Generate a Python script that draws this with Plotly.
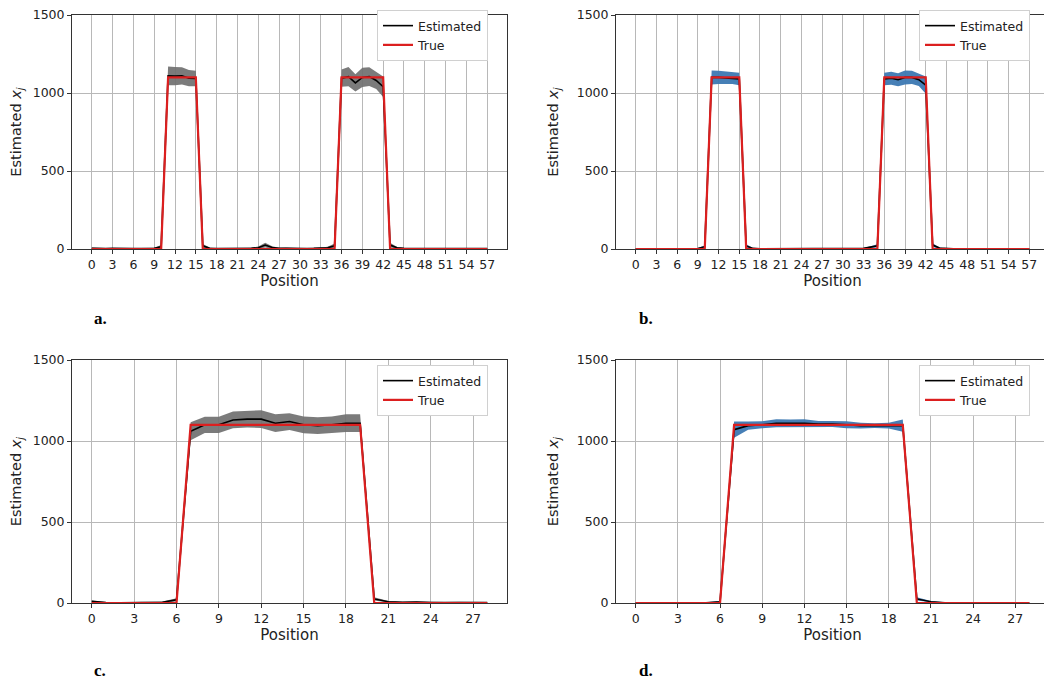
import plotly.graph_objects as go

# positions
pos_long = list(range(58))
pos_short = list(range(29))

# panel a / b (58 positions)
true_long = [0, 0, 0, 0, 0, 0, 0, 0, 0, 0, 0, 1100, 1100, 1100, 1100, 1100, 0, 0, 0, 0,
             0, 0, 0, 0, 0, 0, 0, 0, 0, 0, 0, 0, 0, 0, 0, 0, 1100, 1100, 1100, 1100,
             1100, 1100, 1100, 0, 0, 0, 0, 0, 0, 0, 0, 0, 0, 0, 0, 0, 0, 0]

est_a = [5, 3, 3, 4, 5, 4, 3, 3, 3, 4, 15, 1110, 1108, 1110, 1095, 1093, 20, 5, 3, 3,
         4, 4, 3, 5, 8, 25, 10, 4, 5, 3, 3, 3, 4, 5, 8, 20, 1095, 1105, 1065, 1100,
         1105, 1080, 1040, 25, 8, 4, 3, 3, 3, 3, 3, 3, 3, 4, 3, 3, 3, 3]
sd_a = [4, 3, 3, 3, 3, 3, 3, 3, 3, 4, 10, 60, 58, 55, 52, 50, 12, 4, 3, 3,
        3, 3, 3, 4, 8, 15, 8, 4, 4, 3, 3, 3, 3, 4, 6, 15, 55, 62, 55, 62,
        60, 55, 65, 15, 5, 3, 3, 3, 3, 3, 3, 3, 3, 3, 3, 3, 3, 3]

est_b = [2, 2, 2, 2, 2, 2, 2, 2, 2, 3, 15, 1100, 1100, 1098, 1095, 1090, 20, 4, 2, 2,
         2, 2, 2, 3, 5, 3, 2, 2, 2, 2, 2, 2, 3, 4, 12, 20, 1090, 1095, 1085, 1100,
         1100, 1085, 1050, 25, 6, 2, 2, 2, 2, 2, 2, 2, 2, 2, 2, 2, 2, 2]
sd_b = [2, 2, 2, 2, 2, 2, 2, 2, 2, 3, 8, 45, 42, 40, 38, 40, 10, 3, 2, 2,
        2, 2, 2, 2, 3, 2, 2, 2, 2, 2, 2, 2, 2, 3, 6, 10, 40, 42, 42, 45,
        42, 40, 55, 12, 4, 2, 2, 2, 2, 2, 2, 2, 2, 2, 2, 2, 2, 2]

# panel c / d (29 positions)
true_short = [0, 0, 0, 0, 0, 0, 0, 1100, 1100, 1100, 1100, 1100, 1100, 1100, 1100,
              1100, 1100, 1100, 1100, 1100, 0, 0, 0, 0, 0, 0, 0, 0, 0]

est_c = [10, 3, 2, 2, 2, 5, 20, 1060, 1100, 1100, 1130, 1135, 1135, 1110, 1120,
         1100, 1095, 1100, 1110, 1110, 25, 8, 4, 6, 3, 3, 5, 3, 3]
sd_c = [5, 3, 3, 3, 3, 4, 10, 55, 50, 50, 52, 52, 55, 55, 52,
        52, 52, 52, 55, 55, 10, 5, 3, 3, 3, 3, 3, 3, 3]

est_d = [2, 2, 2, 2, 2, 2, 8, 1070, 1095, 1100, 1110, 1110, 1110, 1105, 1105,
         1100, 1095, 1095, 1095, 1095, 25, 8, 2, 2, 2, 2, 2, 2, 2]
sd_d = [2, 2, 2, 2, 2, 2, 5, 50, 25, 22, 25, 22, 25, 18, 18,
        22, 18, 15, 18, 38, 10, 4, 2, 2, 2, 2, 2, 2, 2]

panel_letters = ["a.", "b.", "c.", "d."]

# the page body adds an 8px margin, so lay the figure out in figure pixels
W, H = 1044, 671
# plot areas: (left, right, top, bottom), letter position (x, y)
boxes = [(64, 499, 7, 241), (608, 1041, 7, 241),
         (64, 499, 352, 595), (608, 1041, 352, 595)]
letter_pos = [(92, 310), (638, 310), (92, 662), (638, 662)]
legend_top = [2, 2, 357, 357]

panels = [
    (pos_long, est_a, sd_a, true_long, "rgba(112,112,112,0.92)"),
    (pos_long, est_b, sd_b, true_long, "rgba(60,120,178,0.95)"),
    (pos_short, est_c, sd_c, true_short, "rgba(112,112,112,0.92)"),
    (pos_short, est_d, sd_d, true_short, "rgba(60,120,178,0.95)"),
]

fig = go.Figure()
font_main = "DejaVu Sans"
annotations = []

for i, (x, est, sd, tru, fillc) in enumerate(panels):
    n = i + 1
    xa = "x" if n == 1 else f"x{n}"
    ya = "y" if n == 1 else f"y{n}"
    leg = "legend" if n == 1 else f"legend{n}"
    hi = [e + s for e, s in zip(est, sd)]
    lo = [max(e - s, 0) for e, s in zip(est, sd)]
    fig.add_trace(go.Scatter(x=x + x[::-1], y=hi + lo[::-1], fill="toself",
                             fillcolor=fillc, line=dict(width=0), mode="lines",
                             showlegend=False, hoverinfo="skip", xaxis=xa, yaxis=ya))
    fig.add_trace(go.Scatter(x=x, y=est, mode="lines", name="Estimated",
                             line=dict(color="black", width=1.6),
                             xaxis=xa, yaxis=ya, legend=leg))
    fig.add_trace(go.Scatter(x=x, y=tru, mode="lines", name="True",
                             line=dict(color="#dc1f1f", width=2.2),
                             xaxis=xa, yaxis=ya, legend=leg))

    l, r, t, b = boxes[i]
    xmax = x[-1]
    pad = xmax * 0.05
    axis_common = dict(showline=True, mirror=True, linecolor="#333333", linewidth=1,
                       ticks="outside", ticklen=4, tickcolor="#333333",
                       showgrid=True, gridcolor="#b8b8b8", gridwidth=1,
                       zeroline=False, automargin=False, ticklabeloverflow="allow",
                       tickfont=dict(family=font_main, size=12.5, color="#222222"))
    fig.update_layout(**{
        ("xaxis" if n == 1 else f"xaxis{n}"): dict(
            domain=[l / W, r / W], anchor=ya, range=[-pad, xmax + pad],
            tickmode="linear", tick0=0, dtick=3,
            title=dict(text="Position", font=dict(family=font_main, size=15, color="#222222"),
                       standoff=0),
            **axis_common),
        ("yaxis" if n == 1 else f"yaxis{n}"): dict(
            domain=[1 - b / H, 1 - t / H], anchor=xa, range=[0, 1500],
            tickmode="linear", tick0=0, dtick=500,
            title=dict(text="Estimated <i>x</i><sub><i>j</i></sub>",
                       font=dict(family=font_main, size=14.5, color="#222222"),
                       standoff=14),
            **axis_common),
        leg: dict(x=(r - 19) / W, y=1 - legend_top[i] / H, xanchor="right", yanchor="top",
                  bgcolor="white", bordercolor="#d0d0d0", borderwidth=1,
                  font=dict(family=font_main, size=12.5, color="#222222"),
                  itemwidth=30, tracegroupgap=0),
    })
    lx, ly = letter_pos[i]
    annotations.append(dict(text=f"<b>{panel_letters[i]}</b>", xref="paper", yref="paper",
                            x=lx / W, y=1 - ly / H, xanchor="center",
                            yanchor="middle", showarrow=False,
                            font=dict(family="Liberation Serif", size=17, color="black")))

fig.update_layout(width=W, height=H, margin=dict(l=0, r=0, t=0, b=0),
                  paper_bgcolor="white", plot_bgcolor="white",
                  annotations=annotations)

fig.write_html("out.html")
